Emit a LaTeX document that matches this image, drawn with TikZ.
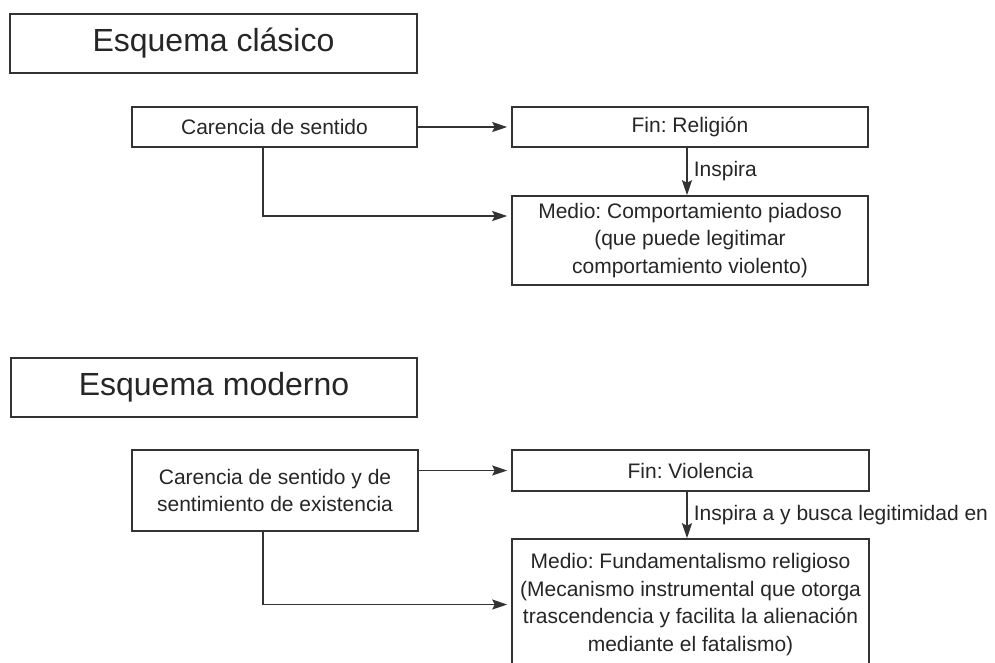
\documentclass[tikz,border=0pt]{standalone}
\usepackage{fontspec}
\setmainfont{Liberation Sans}
\usetikzlibrary{arrows.meta}
\definecolor{linegray}{HTML}{333333}
\definecolor{textgray}{HTML}{262626}
\frenchspacing
\tikzset{
  box/.style={draw=linegray, line width=1.6pt, rectangle, inner sep=0pt, align=center,
              text=textgray, font=\fontsize{21}{27.5}\selectfont},
  titlebox/.style={box, font=\fontsize{32}{38}\selectfont},
  arr/.style={draw=linegray, line width=1.6pt, -{Stealth[length=15pt,width=10pt,inset=2.5pt]}, shorten >=4pt},
  lbl/.style={text=textgray, font=\fontsize{21}{27.5}\selectfont, inner sep=0pt, anchor=west}
}
\begin{document}
\begin{tikzpicture}[x=1pt,y=-1pt]
\clip (0,0) rectangle (995,662);
\fill[white] (0,0) rectangle (995,662);
% classic scheme
\node[titlebox, minimum width=407pt, minimum height=59pt] (t1) at (213.5,43.5) {Esquema clásico};
\node[box, minimum width=285pt, minimum height=40pt] (c1) at (274.5,127) {Carencia de sentido};
\node[box, minimum width=356pt, minimum height=40pt] (f1) at (690,127) {Fin: Religión};
\node[box, minimum width=356pt, minimum height=89pt] (m1) at (690,240.5) {Medio: Comportamiento piadoso\\(que puede legitimar\\comportamiento violento)};
\draw[arr] (c1) -- (f1);
\draw[arr] ([xshift=-11.5pt]c1.south) |- ([yshift=24.5pt]m1.west);
\draw[arr, shorten >=0pt] ([xshift=-3pt]f1.south) -- ([xshift=-3pt]m1.north)
  node[lbl, pos=0.5, xshift=6pt] {Inspira};
% modern scheme
\node[titlebox, minimum width=406pt, minimum height=59pt] (t2) at (214,387.5) {Esquema moderno};
\node[box, minimum width=286pt, minimum height=81pt] (c2) at (275,490.5) {Carencia de sentido y de\\sentimiento de existencia};
\node[box, minimum width=357pt, minimum height=41pt] (f2) at (690.5,470.5) {Fin: Violencia};
\node[box, minimum width=357pt, minimum height=131pt] (m2) at (690.5,604.5) {Medio: Fundamentalismo religioso\\(Mecanismo instrumental que otorga\\trascendencia y facilita la alienación\\mediante el fatalismo)};
\draw[arr] (c2.east |- f2.west) -- (f2.west);
\draw[arr] ([xshift=-12pt]c2.south) |- (m2.west);
\draw[arr, shorten >=0pt] ([xshift=-3.5pt]f2.south) -- ([xshift=-3.5pt]m2.north)
  node[lbl, pos=0.5, xshift=6pt] {Inspira a y busca legitimidad en};
\end{tikzpicture}
\end{document}
